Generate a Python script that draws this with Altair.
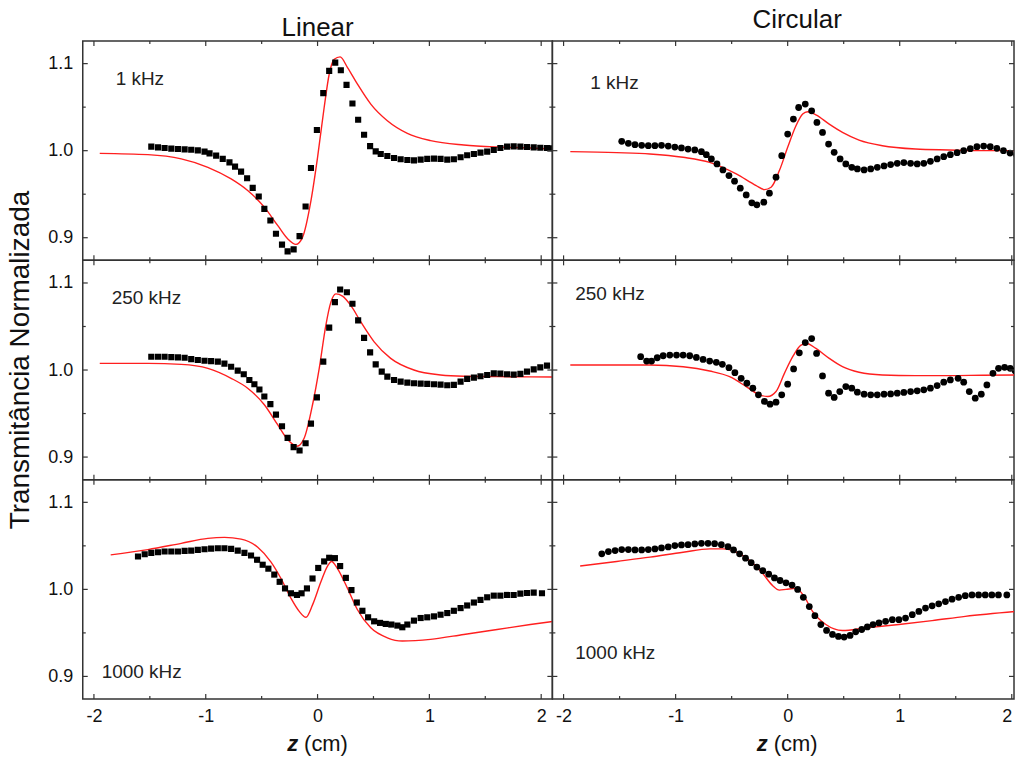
import altair as alt
import pandas as pd

FONT = "Liberation Sans"

# ---------------- data (z in cm, normalized transmittance) ----------------
# Linear, 1 kHz
lin1_z = [-1.487, -1.427, -1.368, -1.308, -1.249, -1.189, -1.130, -1.071, -1.011, -0.966,
          -0.907, -0.848, -0.788, -0.738, -0.684, -0.630, -0.580, -0.526, -0.476, -0.422,
          -0.372, -0.318, -0.268, -0.214, -0.161, -0.107, -0.059, -0.006, 0.051, 0.104,
          0.158, 0.208, 0.259, 0.312, 0.363, 0.416, 0.470, 0.520, 0.565, 0.624,
          0.684, 0.743, 0.803, 0.862, 0.922, 0.981, 1.041, 1.100, 1.160, 1.219,
          1.279, 1.338, 1.398, 1.457, 1.517, 1.576, 1.635, 1.695, 1.754, 1.814,
          1.873, 1.933, 1.992, 2.052, 2.082]
lin1_T = [1.0046, 1.0038, 1.0031, 1.0023, 1.0019, 1.0015, 1.0011, 1.0004, 0.9989, 0.9969,
          0.9943, 0.9905, 0.9866, 0.9817, 0.9759, 0.9683, 0.9572, 0.9473, 0.9332, 0.9198,
          0.9046, 0.8920, 0.8843, 0.8866, 0.9019, 0.9359, 0.9801, 1.0237, 1.0661, 1.0916,
          1.1012, 1.0924, 1.0756, 1.0542, 1.0355, 1.0183, 1.0053, 0.9992, 0.9962, 0.9939,
          0.9916, 0.9901, 0.9893, 0.9889, 0.9897, 0.9905, 0.9908, 0.9905, 0.9897, 0.9901,
          0.9924, 0.9947, 0.9962, 0.9977, 0.9989, 1.0008, 1.0031, 1.0046, 1.0050, 1.0046,
          1.0042, 1.0038, 1.0034, 1.0031, 1.0027]
fit_lin1_z = [-1.948, -1.517, -1.219, -0.981, -0.773, -0.625, -0.476, -0.357, -0.268, -0.193,
              -0.134, -0.059, 0.0, 0.059, 0.104, 0.149, 0.202, 0.268, 0.357, 0.476,
              0.624, 0.803, 1.011, 1.308, 1.606, 1.903, 2.111]
fit_lin1_T = [0.9969, 0.9954, 0.9905, 0.9809, 0.9675, 0.9542, 0.9351, 0.9141, 0.8988, 0.8923,
              0.9007, 0.9427, 0.9924, 1.0496, 1.0878, 1.1050, 1.1077, 1.0955, 1.0764, 1.0535,
              1.0344, 1.0199, 1.0115, 1.0065, 1.0042, 1.0031, 1.0019]

# Circular, 1 kHz
cir1_z = [-1.481, -1.422, -1.363, -1.303, -1.244, -1.185, -1.126, -1.066, -1.007, -0.948,
          -0.889, -0.829, -0.770, -0.726, -0.681, -0.631, -0.578, -0.524, -0.474, -0.423,
          -0.370, -0.320, -0.275, -0.213, -0.163, -0.104, -0.053, 0.0, 0.051, 0.098,
          0.157, 0.214, 0.261, 0.311, 0.365, 0.415, 0.468, 0.519, 0.572, 0.622,
          0.682, 0.741, 0.800, 0.860, 0.919, 0.978, 1.037, 1.097, 1.156, 1.215,
          1.274, 1.334, 1.393, 1.452, 1.512, 1.571, 1.630, 1.689, 1.749, 1.808,
          1.867, 1.926, 1.985, 2.045]
cir1_T = [1.0107, 1.0084, 1.0069, 1.0061, 1.0057, 1.0057, 1.0061, 1.0053, 1.0042, 1.0031,
          1.0019, 1.0008, 0.9989, 0.9954, 0.9905, 0.9847, 0.9779, 0.9714, 0.9649, 0.9569,
          0.9492, 0.9401, 0.9378, 0.9408, 0.9511, 0.9695, 0.9943, 1.0191, 1.0363, 1.0496,
          1.0535, 1.0458, 1.0325, 1.0210, 1.0076, 0.9981, 0.9905, 0.9847, 0.9809, 0.9790,
          0.9779, 0.9790, 0.9809, 0.9824, 0.9840, 0.9855, 0.9863, 0.9855, 0.9847, 0.9855,
          0.9878, 0.9905, 0.9931, 0.9954, 0.9977, 1.0000, 1.0023, 1.0046, 1.0053, 1.0046,
          1.0027, 1.0000, 0.9973, 0.9950]
fit_cir1_z = [-1.940, -1.526, -1.229, -0.933, -0.696, -0.459, -0.281, -0.207, -0.148, -0.074,
              0.0, 0.074, 0.134, 0.178, 0.252, 0.371, 0.489, 0.637, 0.845, 1.141,
              1.437, 1.734, 2.045]
fit_cir1_T = [0.9989, 0.9977, 0.9962, 0.9924, 0.9866, 0.9733, 0.9599, 0.9553, 0.9580, 0.9771,
              1.0038, 1.0286, 1.0420, 1.0447, 1.0412, 1.0305, 1.0210, 1.0122, 1.0057, 1.0019,
              1.0008, 1.0000, 1.0000]

# Linear, 250 kHz
lin2_z = [-1.487, -1.427, -1.368, -1.308, -1.249, -1.189, -1.130, -1.071, -1.011, -0.952,
          -0.892, -0.833, -0.773, -0.714, -0.660, -0.610, -0.565, -0.520, -0.476, -0.422,
          -0.372, -0.318, -0.268, -0.214, -0.161, -0.107, -0.059, -0.006, 0.051, 0.104,
          0.155, 0.202, 0.262, 0.312, 0.363, 0.416, 0.470, 0.520, 0.574, 0.624,
          0.684, 0.743, 0.803, 0.862, 0.922, 0.981, 1.041, 1.100, 1.160, 1.219,
          1.279, 1.338, 1.398, 1.457, 1.517, 1.576, 1.635, 1.695, 1.754, 1.814,
          1.873, 1.933, 1.992, 2.052]
lin2_T = [1.0153, 1.0153, 1.0153, 1.0149, 1.0145, 1.0141, 1.0126, 1.0115, 1.0107, 1.0103,
          1.0096, 1.0073, 1.0038, 0.9993, 0.9951, 0.9886, 0.9837, 0.9776, 0.9696, 0.9608,
          0.9487, 0.9354, 0.9220, 0.9114, 0.9076, 0.9159, 0.9384, 0.9685, 1.0096, 1.0487,
          1.0780, 1.0925, 1.0894, 1.0761, 1.0571, 1.0369, 1.0202, 1.0065, 0.9981, 0.9924,
          0.9886, 0.9867, 0.9856, 0.9848, 0.9844, 0.9841, 0.9837, 0.9833, 0.9825, 0.9829,
          0.9867, 0.9898, 0.9913, 0.9928, 0.9943, 0.9962, 0.9959, 0.9951, 0.9947, 0.9955,
          0.9981, 1.0008, 1.0031, 1.0050]
fit_lin2_z = [-1.948, -1.517, -1.219, -0.981, -0.773, -0.625, -0.476, -0.357, -0.268, -0.184,
              -0.119, -0.045, 0.015, 0.074, 0.119, 0.164, 0.223, 0.297, 0.387, 0.506,
              0.654, 0.862, 1.100, 1.308, 1.606, 2.111]
fit_lin2_T = [1.0076, 1.0076, 1.0065, 1.0019, 0.9905, 0.9791, 0.9601, 0.9372, 0.9201, 0.9125,
              0.9220, 0.9601, 1.0019, 1.0514, 1.0780, 1.0875, 1.0849, 1.0742, 1.0552, 1.0324,
              1.0134, 1.0000, 0.9943, 0.9928, 0.9924, 0.9920]

# Circular, 250 kHz
cir2_z = [-1.312, -1.259, -1.215, -1.164, -1.111, -1.052, -0.992, -0.933, -0.874, -0.815,
          -0.755, -0.696, -0.637, -0.583, -0.524, -0.471, -0.415, -0.364, -0.311, -0.261,
          -0.207, -0.157, -0.104, -0.053, 0.0, 0.053, 0.104, 0.157, 0.214, 0.258,
          0.311, 0.365, 0.415, 0.465, 0.519, 0.572, 0.622, 0.682, 0.741, 0.800,
          0.860, 0.919, 0.978, 1.037, 1.097, 1.156, 1.215, 1.274, 1.334, 1.393,
          1.452, 1.521, 1.571, 1.621, 1.674, 1.728, 1.778, 1.832, 1.882, 1.936,
          1.986, 2.030]
cir2_T = [1.0153, 1.0103, 1.0103, 1.0141, 1.0164, 1.0172, 1.0172, 1.0172, 1.0164, 1.0145,
          1.0122, 1.0103, 1.0088, 1.0065, 1.0027, 0.9970, 0.9905, 0.9848, 0.9791, 0.9715,
          0.9639, 0.9608, 0.9631, 0.9715, 0.9837, 1.0012, 1.0198, 1.0316, 1.0362, 1.0191,
          0.9932, 0.9734, 0.9685, 0.9753, 0.9810, 0.9791, 0.9745, 0.9723, 0.9715, 0.9715,
          0.9723, 0.9726, 0.9734, 0.9742, 0.9753, 0.9761, 0.9772, 0.9791, 0.9822, 0.9860,
          0.9886, 0.9905, 0.9860, 0.9753, 0.9677, 0.9723, 0.9829, 0.9962, 1.0019, 1.0031,
          1.0019, 0.9993]
fit_cir2_z = [-1.940, -1.229, -0.933, -0.696, -0.518, -0.370, -0.252, -0.178, -0.104, -0.029,
              0.045, 0.119, 0.169, 0.252, 0.371, 0.489, 0.637, 0.845, 1.141, 1.437,
              1.734, 2.045]
fit_cir2_T = [1.0057, 1.0057, 1.0038, 0.9989, 0.9924, 0.9810, 0.9715, 0.9696, 0.9753, 0.9962,
              1.0153, 1.0286, 1.0305, 1.0248, 1.0134, 1.0038, 0.9974, 0.9943, 0.9936, 0.9936,
              0.9940, 0.9943]

# Linear, 1000 kHz
lin3_z = [-1.606, -1.546, -1.487, -1.427, -1.368, -1.308, -1.249, -1.189, -1.130, -1.071,
          -1.011, -0.952, -0.892, -0.833, -0.773, -0.714, -0.654, -0.595, -0.541, -0.491,
          -0.440, -0.387, -0.339, -0.291, -0.238, -0.184, -0.143, -0.095, -0.045, 0.006,
          0.059, 0.104, 0.155, 0.202, 0.253, 0.303, 0.351, 0.401, 0.452, 0.506,
          0.559, 0.610, 0.660, 0.714, 0.758, 0.803, 0.862, 0.922, 0.981, 1.041,
          1.100, 1.160, 1.219, 1.279, 1.338, 1.398, 1.457, 1.517, 1.576, 1.635,
          1.695, 1.754, 1.814, 1.873, 1.933, 2.007]
lin3_T = [1.0378, 1.0404, 1.0419, 1.0427, 1.0435, 1.0435, 1.0435, 1.0442, 1.0446, 1.0453,
          1.0461, 1.0469, 1.0472, 1.0472, 1.0465, 1.0446, 1.0419, 1.0389, 1.0340, 1.0283,
          1.0238, 1.0170, 1.0087, 1.0011, 0.9955, 0.9936, 0.9955, 1.0011, 1.0125, 1.0246,
          1.0321, 1.0363, 1.0359, 1.0268, 1.0132, 0.9992, 0.9849, 0.9754, 0.9679, 0.9633,
          0.9615, 0.9603, 0.9596, 0.9584, 0.9565, 0.9596, 0.9641, 0.9671, 0.9679, 0.9690,
          0.9709, 0.9728, 0.9754, 0.9785, 0.9815, 0.9849, 0.9879, 0.9909, 0.9928, 0.9928,
          0.9936, 0.9936, 0.9951, 0.9958, 0.9962, 0.9955]
fit_lin3_z = [-1.850, -1.517, -1.219, -0.981, -0.833, -0.684, -0.535, -0.416, -0.327, -0.238,
              -0.164, -0.104, -0.045, 0.030, 0.089, 0.125, 0.178, 0.268, 0.357, 0.476,
              0.624, 0.758, 1.011, 1.308, 1.606, 1.903, 2.111]
fit_lin3_T = [1.0397, 1.0457, 1.0529, 1.0586, 1.0597, 1.0578, 1.0484, 1.0314, 1.0125, 0.9898,
              0.9747, 0.9679, 0.9822, 1.0087, 1.0268, 1.0321, 1.0238, 1.0011, 0.9766, 0.9558,
              0.9444, 0.9407, 0.9426, 0.9482, 0.9539, 0.9596, 0.9633]

# Circular, 1000 kHz
cir3_z = [-1.659, -1.600, -1.540, -1.481, -1.422, -1.363, -1.303, -1.244, -1.185, -1.126,
          -1.066, -1.007, -0.948, -0.889, -0.829, -0.770, -0.711, -0.652, -0.592, -0.533,
          -0.483, -0.429, -0.376, -0.326, -0.275, -0.222, -0.169, -0.118, -0.068, -0.015,
          0.039, 0.089, 0.140, 0.193, 0.243, 0.296, 0.347, 0.400, 0.453, 0.504,
          0.557, 0.607, 0.661, 0.711, 0.762, 0.815, 0.874, 0.934, 0.993, 1.052,
          1.112, 1.171, 1.230, 1.289, 1.348, 1.408, 1.467, 1.526, 1.585, 1.645,
          1.704, 1.763, 1.822, 1.881, 1.956]
cir3_T = [1.0408, 1.0435, 1.0446, 1.0457, 1.0457, 1.0453, 1.0453, 1.0457, 1.0465, 1.0476,
          1.0487, 1.0503, 1.0510, 1.0514, 1.0522, 1.0529, 1.0529, 1.0525, 1.0514, 1.0491,
          1.0453, 1.0408, 1.0359, 1.0306, 1.0257, 1.0215, 1.0174, 1.0132, 1.0102, 1.0076,
          1.0049, 1.0000, 0.9909, 0.9803, 0.9698, 0.9596, 0.9528, 0.9482, 0.9460, 0.9452,
          0.9471, 0.9513, 0.9539, 0.9569, 0.9596, 0.9615, 0.9633, 0.9652, 0.9652, 0.9671,
          0.9709, 0.9747, 0.9785, 0.9811, 0.9834, 0.9860, 0.9887, 0.9909, 0.9928, 0.9936,
          0.9936, 0.9936, 0.9936, 0.9936, 0.9936]
fit_cir3_z = [-1.852, -1.526, -1.229, -0.933, -0.696, -0.577, -0.459, -0.340, -0.222, -0.133,
              -0.074, -0.015, 0.074, 0.148, 0.222, 0.341, 0.489, 0.696, 0.993, 1.289,
              1.585, 2.045]
fit_cir3_T = [1.0268, 1.0321, 1.0370, 1.0427, 1.0465, 1.0465, 1.0427, 1.0333, 1.0181, 1.0042,
              0.9992, 1.0000, 1.0011, 0.9917, 0.9747, 0.9596, 0.9528, 0.9558, 0.9596, 0.9641,
              0.9690, 0.9747]

column_titles = ["Linear", "Circular"]
freq_labels = ["1 kHz", "250 kHz", "1000 kHz"]
x_tick_labels = [-2, -1, 0, 1, 2]
x_minor = [-1.5, -0.5, 0.5, 1.5]
y_tick_labels = [0.9, 1.0, 1.1]
y_minor = [0.95, 1.05]

# ---------------- layout ----------------
H = 220
W_LEFT = 471
W_RIGHT = 463
Y_DOMAIN = [0.874, 1.126]
X_DOM_LEFT = [-2.1, 2.1]
X_DOM_RIGHT = [-2.1, 2.02]

# label positions (pixels inside each panel): [row][col]
label_pos = [[(33, 44), (38, 48)],
             [(29, 44), (23, 40)],
             [(19, 199), (23, 180)]]

series = [
    [(lin1_z, lin1_T, fit_lin1_z, fit_lin1_T), (cir1_z, cir1_T, fit_cir1_z, fit_cir1_T)],
    [(lin2_z, lin2_T, fit_lin2_z, fit_lin2_T), (cir2_z, cir2_T, fit_cir2_z, fit_cir2_T)],
    [(lin3_z, lin3_T, fit_lin3_z, fit_lin3_T), (cir3_z, cir3_T, fit_cir3_z, fit_cir3_T)],
]


def panel(row, col):
    pz, pT, fz, fT = series[row][col]
    width = W_LEFT if col == 0 else W_RIGHT
    xdom = X_DOM_LEFT if col == 0 else X_DOM_RIGHT
    xscale = alt.Scale(domain=xdom, nice=False, zero=False)
    yscale = alt.Scale(domain=Y_DOMAIN, nice=False, zero=False)

    if row == 2:
        xaxis = alt.Axis(values=x_tick_labels, labelExpr="'' + datum.value",
                         ticks=False, domain=False, grid=False, title=None,
                         labelFont=FONT, labelFontSize=18, labelColor="#111",
                         labelPadding=9, labelFlush=3 if col == 1 else False)
    else:
        xaxis = None
    if col == 0:
        yaxis = alt.Axis(values=y_tick_labels, labelExpr="format(datum.value, '.1f')",
                         ticks=False, domain=False, grid=False, title=None,
                         labelFont=FONT, labelFontSize=18, labelColor="#111",
                         labelPadding=10)
    else:
        yaxis = None

    X = alt.X("z:Q", scale=xscale, axis=xaxis)
    Y = alt.Y("T:Q", scale=yscale, axis=yaxis)

    pts = pd.DataFrame({"z": pz, "T": pT})
    fit = pd.DataFrame({"z": fz, "T": fT})

    if col == 0:
        marks = alt.Chart(pts).mark_square(size=38, color="black", opacity=1, clip=True)
    else:
        marks = alt.Chart(pts).mark_circle(size=46, color="black", opacity=1, clip=True)
    marks = marks.encode(x=X, y=Y)

    line = alt.Chart(fit).mark_line(color="#ff1f1f", strokeWidth=1.4,
                                    interpolate="monotone", clip=True).encode(x=X, y=Y)

    layers = [line, marks]

    # inward tick marks on all four sides
    def xticks(vals, length):
        d = pd.DataFrame({"z": vals})
        b = alt.Chart(d).mark_rule(color="#333", strokeWidth=1.2)
        return [b.encode(x=X, y=alt.value(H), y2=alt.value(H - length)),
                b.encode(x=X, y=alt.value(0), y2=alt.value(length))]

    def yticks(vals, length):
        d = pd.DataFrame({"T": vals})
        b = alt.Chart(d).mark_rule(color="#333", strokeWidth=1.2)
        return [b.encode(y=Y, x=alt.value(0), x2=alt.value(length)),
                b.encode(y=Y, x=alt.value(width), x2=alt.value(width - length))]

    layers += xticks(x_tick_labels, 5) + xticks(x_minor, 3)
    layers += yticks(y_tick_labels, 5) + yticks(y_minor, 3)

    # frequency label
    lx, ly = label_pos[row][col]
    layers.append(alt.Chart(pd.DataFrame({"t": [freq_labels[row]]})).mark_text(
        align="left", baseline="alphabetic", font=FONT, fontSize=19, color="#222"
    ).encode(x=alt.value(lx), y=alt.value(ly), text="t:N"))

    # column titles
    if row == 0:
        ty = -5 if col == 0 else -13
        layers.append(alt.Chart(pd.DataFrame({"t": [column_titles[col]]})).mark_text(
            align="center", baseline="alphabetic", font=FONT, fontSize=26, color="#111"
        ).encode(x=alt.value(width / 2 + (0 if col == 0 else 14)), y=alt.value(ty), text="t:N"))

    # y-axis title
    if row == 1 and col == 0:
        layers.append(alt.Chart(pd.DataFrame({"t": ["Transmitância Normalizada"]})).mark_text(
            align="center", baseline="alphabetic", angle=270, font=FONT, fontSize=28, color="#111"
        ).encode(x=alt.value(-54), y=alt.value(100), text="t:N"))

    # x-axis title: italic z + (cm)
    if row == 2:
        layers.append(alt.Chart(pd.DataFrame({"t": ["z"]})).mark_text(
            align="right", baseline="alphabetic", font=FONT, fontSize=22,
            fontStyle="italic", fontWeight="bold", color="#111"
        ).encode(x=alt.value(216), y=alt.value(272), text="t:N"))
        layers.append(alt.Chart(pd.DataFrame({"t": ["(cm)"]})).mark_text(
            align="left", baseline="alphabetic", font=FONT, fontSize=22, color="#111"
        ).encode(x=alt.value(222), y=alt.value(272), text="t:N"))

    return alt.layer(*layers).properties(width=width, height=H)


panels = [panel(r, c) for r in range(3) for c in range(2)]
chart = alt.concat(*panels, columns=2, spacing=0, bounds="flush").properties(
    padding={"left": 6, "top": 5, "right": 0, "bottom": 0},
    background="white",
).configure_view(stroke="#333", strokeWidth=1.5)

chart.save("out.html", embed_options={"renderer": "svg", "actions": False})
